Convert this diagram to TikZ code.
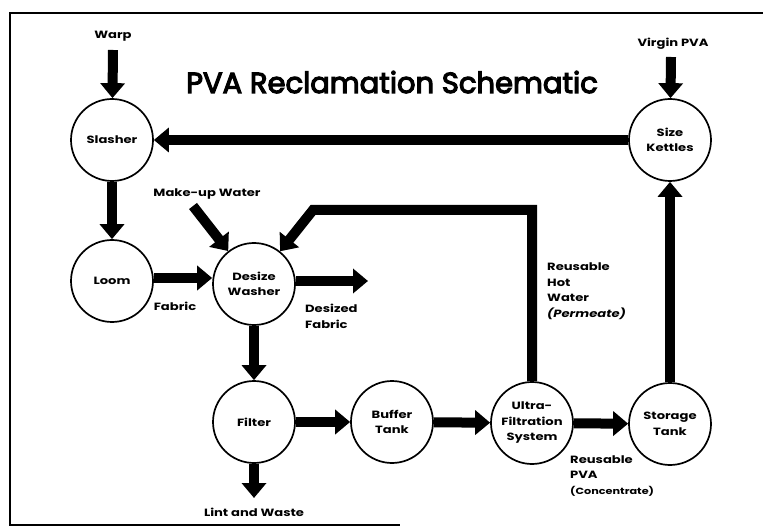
\documentclass[tikz,border=0pt]{standalone}
\usepackage{fontspec}
\setmainfont{Poppins}
\newfontfamily\lblfont[FakeStretch=1.25]{Poppins}
\newfontfamily\titlefont[FakeBold=4]{Poppins}
\usetikzlibrary{arrows.meta}
\begin{document}
\begin{tikzpicture}[x=1pt,y=-1pt,
  unit/.style={circle,draw,line width=1.7pt,minimum size=82pt,inner sep=0pt,align=center,
    font=\lblfont\bfseries\fontsize{10.5}{15.5}\selectfont},
  flow/.style={line width=10pt,-{Triangle[length=15pt,width=24pt]}},
  pipe/.style={line width=10pt,line join=miter,-{Triangle[length=15pt,width=24pt]}},
  lbl/.style={font=\lblfont\bfseries\fontsize{10.5}{15.5}\selectfont,align=left,inner sep=0pt},
  frame/.style={line width=2.2pt}]
\useasboundingbox (0,0) rectangle (763,529);
% frame
\draw[frame] (763,13) -- (10,13) -- (10,525) -- (400,525);
% title
\node[anchor=base,inner sep=0pt,font=\titlefont\fontsize{29}{34}\selectfont] (title) at (392,93) {PVA Reclamation Schematic};
% units
\node[unit] (sl) at (112,140) {Slasher};
\node[unit] (sk) at (670,140) {Size\\Kettles};
\node[unit] (lo) at (112,281) {Loom};
\node[unit] (dw) at (254,284) {Desize\\Washer};
\node[unit] (fi) at (254,422) {Filter};
\node[unit] (bt) at (392,422) {Buffer\\Tank};
\node[unit] (uf) at (532,423) {Ultra-\\Filtration\\System};
\node[unit] (st) at (670,424) {Storage\\Tank};
% labels
\node[lbl,anchor=base] (warp) at (113,39) {Warp};
\node[lbl,anchor=base] (vpva) at (673,47) {Virgin PVA};
\node[lbl,anchor=base] (muw) at (207,197) {Make-up Water};
\node[lbl,anchor=base] (fab) at (175,311) {Fabric};
\node[lbl,anchor=base west] (dfab) at (305,328) {Desized\\Fabric};
\node[lbl,anchor=base west] (rhw) at (547,317) {Reusable\\Hot\\Water\\{\itshape (Permeate)}};
\node[lbl,anchor=base west] (rpva) at (570,494) {Reusable\\PVA\\{\fontsize{9}{13}\selectfont (Concentrate)}};
\node[lbl,anchor=base] (lint) at (254,516) {Lint and Waste};
% free ends
\coordinate (warpS) at (113,50);
\coordinate (vpvaS) at (671,57);
\coordinate (muwS) at (193,206);
\coordinate (dfabE) at (368,281);
\coordinate (lintE) at (254,498);
\coordinate (bend) at (313,210);
% flows
\draw[flow] (warpS) -- (sl);
\draw[flow] (vpvaS) -- (sk);
\draw[flow] (sk) -- (sl);
\draw[flow] (sl) -- (lo);
\draw[flow] (lo.east |- 0,278) -- (dw.west |- 0,278);
\draw[flow] (muwS) -- (dw);
\draw[flow] (dw.east |- 0,281) -- (dfabE);
\draw[flow] (dw) -- (fi);
\draw[flow] (fi) -- (lintE);
\draw[flow] (fi) -- (bt);
\draw[flow] (bt) -- (uf);
\draw[flow] (uf) -- (st);
\draw[flow] (st) -- (sk);
\draw[pipe] (uf.north) |- (bend) -- (dw);
\end{tikzpicture}
\end{document}
